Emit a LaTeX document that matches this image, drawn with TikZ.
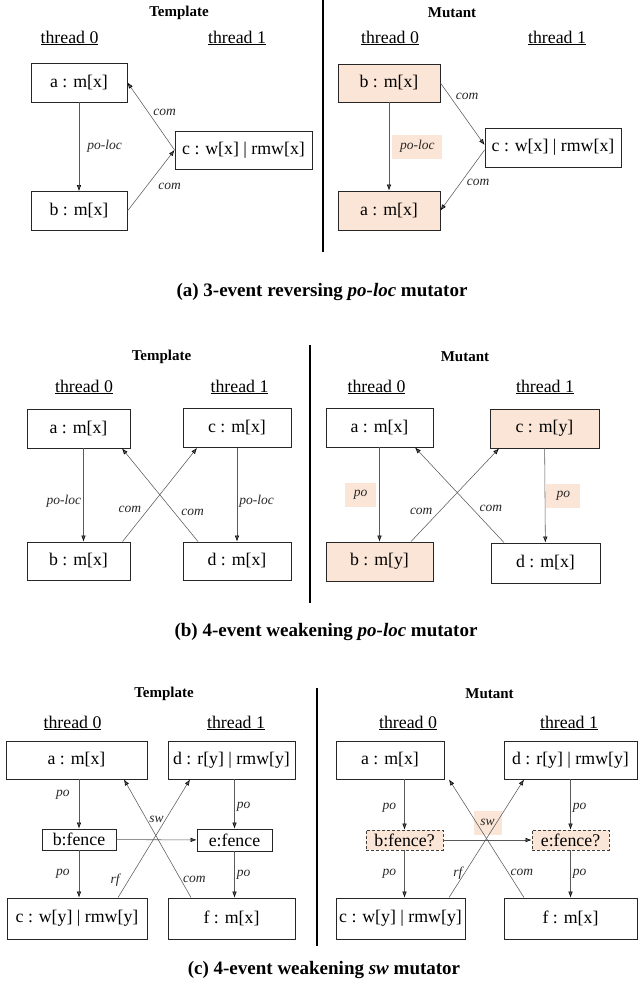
\documentclass[tikz,border=0pt]{standalone}
\usepackage{fontspec}
\setmainfont{Liberation Serif}
\usetikzlibrary{positioning, arrows.meta}
\definecolor{peach}{HTML}{FBE5D6}

\begin{document}
\begin{tikzpicture}[x=1pt, y=-1pt, node distance=128pt, on grid]
                \tikzset{
                    ev/.style={draw=black!85, line width=0.9pt, minimum height=39pt, inner sep=2pt, font=\fontsize{17.8}{20}\selectfont},
                    mut/.style={ev, fill=peach},
                    fen/.style={ev, minimum height=21pt, inner ysep=1pt},
                    fenmut/.style={fen, fill=peach, draw=black!75, dash pattern=on 3pt off 2pt},
                    rel/.style={-{Latex[length=6pt, width=4.5pt, color=black]}, color=black!65, line width=0.55pt},
                    lbl/.style={font=\itshape\fontsize{13.5}{15}\selectfont, text=black!85, inner sep=2pt},
                    hl/.style={lbl, fill=peach, minimum height=24pt},
                    ttl/.style={font=\bfseries\fontsize{15}{17}\selectfont},
                    thr/.style={font=\fontsize{17.8}{20}\selectfont},
                    captxt/.style={font=\bfseries\fontsize{19}{22}\selectfont},
                    divider/.style={line width=2.2pt}
                }
                \useasboundingbox (0,0) rectangle (644,990);

                % (a) TEMPLATE
                \node[ttl] (t1title) at (179,13) {Template};
                \node[thr] (t1th0) at (69.5,38) {\underline{thread 0}};
                \node[thr] (t1th1) at (237,38) {\underline{thread 1}};
                \node[ev, minimum width=96pt] (t1a) at (79,82.5) {a : m[x]};
                \node[ev, minimum width=96pt] (t1b) [below=128.5pt of t1a] {b : m[x]};
                \node[ev, minimum width=137pt, minimum height=38pt] (t1c) at (243.5,150) {c : w[x] | rmw[x]};

                \path[rel]
                    (t1a) edge node[lbl, right=6pt] {po-loc} (t1b)
                    (t1c.west) edge node[lbl, above right, yshift=-2pt] {com} (t1a.east)
                    (t1b.east) edge node[lbl, below right, xshift=5pt] {com} (t1c.west);

                % (a) MUTANT
                \node[ttl] (m1title) at (452,13) {Mutant};
                \node[thr] (m1th0) at (390,38) {\underline{thread 0}};
                \node[thr] (m1th1) at (557,38) {\underline{thread 1}};
                \node[mut, minimum width=102pt, minimum height=38pt] (m1b) at (389,83) {b : m[x]};
                \node[mut, minimum width=102pt] (m1a) [below=127.5pt of m1b] {a : m[x]};
                \node[ev, minimum width=136pt] (m1c) at (553,147.5) {c : w[x] | rmw[x]};

                \path[rel]
                    (m1b) edge node[hl, right=3pt, minimum width=50pt] {po-loc} (m1a)
                    (m1b.east) edge node[lbl, above right, pos=0.3] {com} ([yshift=2.5pt]m1c.west)
                    ([yshift=-2.5pt]m1c.west) edge node[lbl, below right, pos=0.45] {com} (m1a.east);

                \draw[divider] (323,0) -- (323,252);
                \node[captxt] (cap1) at (322,292) {(a) 3-event reversing \textit{po-loc} mutator};

                % (b) TEMPLATE
                \node[ttl] (t2title) at (161.5,357) {Template};
                \node[thr] (t2th0) at (84,387) {\underline{thread 0}};
                \node[thr] (t2th1) at (239.5,387) {\underline{thread 1}};
                \node[ev, minimum width=103pt] (t2a) at (78.5,428.5) {a : m[x]};
                \node[ev, minimum width=108pt] (t2c) at (237,428) {c : m[x]};
                \node[ev, minimum width=103pt, minimum height=38pt] (t2b) [below=132.5pt of t2a] {b : m[x]};
                \node[ev, minimum width=108pt, minimum height=38pt] (t2d) [below=133pt of t2c] {d : m[x]};

                \path[rel]
                    ([xshift=5pt]t2a.south) edge node[lbl, left, pos=0.57] {po-loc} ([xshift=5pt]t2b.north)
                    (t2c) edge node[lbl, right, pos=0.57] {po-loc} (t2d)
                    ([xshift=44pt]t2b.north) edge node[lbl, above left, pos=0.28] {com} ([xshift=-40pt]t2c.south)
                    ([xshift=-39pt]t2d.north) edge node[lbl, above right, pos=0.25] {com} ([xshift=43.5pt]t2a.south);

                % (b) MUTANT
                \node[ttl] (m2title) at (465,357) {Mutant};
                \node[thr] (m2th0) at (376.5,387) {\underline{thread 0}};
                \node[thr] (m2th1) at (545,387) {\underline{thread 1}};
                \node[ev, minimum width=107pt] (m2a) at (379.5,427.5) {a : m[x]};
                \node[mut, minimum width=109pt] (m2c) at (544.5,428.5) {c : m[y]};
                \node[mut, minimum width=107pt] (m2b) [below=134pt of m2a] {b : m[y]};
                \node[ev, minimum width=109pt, minimum height=40pt] (m2d) at (545.5,563) {d : m[x]};

                \path[rel]
                    (m2a) edge node[hl, left=3pt, minimum width=31pt] {po} (m2b)
                    (m2c) edge node[hl, right=1pt, minimum width=34pt] {po} (m2d)
                    ([xshift=31.5pt]m2b.north) edge node[lbl, above left, pos=0.27] {com} ([xshift=-45.5pt]m2c.south)
                    ([xshift=-41.5pt]m2d.north) edge node[lbl, above right, pos=0.3] {com} ([xshift=35.5pt]m2a.south);

                \draw[divider] (310,345) -- (310,603);
                \node[captxt] (cap2) at (326,632) {(b) 4-event weakening \textit{po-loc} mutator};

                % (c) TEMPLATE
                \node[ttl] (t3title) at (164,694) {Template};
                \node[thr] (t3th0) at (72.5,723) {\underline{thread 0}};
                \node[thr] (t3th1) at (236,723) {\underline{thread 1}};
                \node[ev, minimum width=141pt, minimum height=38pt] (t3a) at (76.5,760) {a : m[x]};
                \node[ev, minimum width=127pt, minimum height=38pt] (t3d) at (231.5,760) {d : r[y] | rmw[y]};
                \node[fen, minimum width=74pt] (t3b) at (79,839.5) {b:fence};
                \node[fen, minimum width=75pt, minimum height=22pt] (t3e) at (234.5,840) {e:fence};
                \node[ev, minimum width=140pt, minimum height=41pt] (t3c) at (77,918.5) {c : w[y] | rmw[y]};
                \node[ev, minimum width=127pt, minimum height=41pt] (t3f) at (231.5,918.5) {f : m[x]};

                \path[rel]
                    (t3a.south -| t3b.north) edge node[lbl, left=7pt, pos=0.32] {po} (t3b.north)
                    (t3b.south) edge node[lbl, left=7pt] {po} (t3c.north -| t3b.south)
                    (t3e.north |- t3d.south) edge node[lbl, right, pos=0.55] {po} (t3e.north)
                    (t3e.south) edge node[lbl, right] {po} (t3f.north -| t3e.south)
                    (t3b) edge node[lbl, above=15pt] {sw} (t3e)
                    ([xshift=41pt]t3c.north) edge node[lbl, left=7pt, pos=0.15] {rf} ([xshift=-41.5pt]t3d.south)
                    ([xshift=-40.5pt]t3f.north) edge node[lbl, right, pos=0.15] {com} ([xshift=47.5pt]t3a.south);

                % (c) MUTANT
                \node[ttl] (m3title) at (489.5,694) {Mutant};
                \node[thr] (m3th0) at (408,723) {\underline{thread 0}};
                \node[thr] (m3th1) at (569,723) {\underline{thread 1}};
                \node[ev, minimum width=108pt, minimum height=38pt] (m3a) at (390,760) {a : m[x]};
                \node[ev, minimum width=133pt, minimum height=38pt] (m3d) at (570.5,760) {d : r[y] | rmw[y]};
                \node[fenmut, minimum width=77pt, minimum height=20pt] (m3b) at (404.5,840) {b:fence?};
                \node[fenmut, minimum width=77pt, minimum height=20pt] (m3e) at (570.5,840) {e:fence?};
                \node[ev, minimum width=129pt, minimum height=41pt] (m3c) at (400.5,918.5) {c : w[y] | rmw[y]};
                \node[ev, minimum width=133pt, minimum height=41pt] (m3f) at (570.5,918.5) {f : m[x]};

                \path[rel]
                    (m3a.south -| m3b.north) edge node[lbl, left=6pt, pos=0.57] {po} (m3b.north)
                    (m3b.south) edge node[lbl, left=6pt] {po} (m3c.north -| m3b.south)
                    (m3e.north |- m3d.south) edge node[lbl, right, pos=0.57] {po} (m3e.north)
                    (m3e.south) edge node[lbl, right] {po} (m3f.north -| m3e.south)
                    (m3b) edge node[hl, above=5pt, minimum width=28pt] {sw} (m3e)
                    ([xshift=48.5pt]m3c.north) edge node[lbl, left, pos=0.21] {rf} ([xshift=-46.5pt]m3d.south)
                    ([xshift=-46.5pt]m3f.north) edge node[lbl, right, pos=0.21] {com} ([xshift=59pt]m3a.south);

                \draw[divider] (317,688) -- (317,946);
                \node[captxt] (cap3) at (324,970) {(c) 4-event weakening \textit{sw} mutator};

            \end{tikzpicture}
\end{document}
